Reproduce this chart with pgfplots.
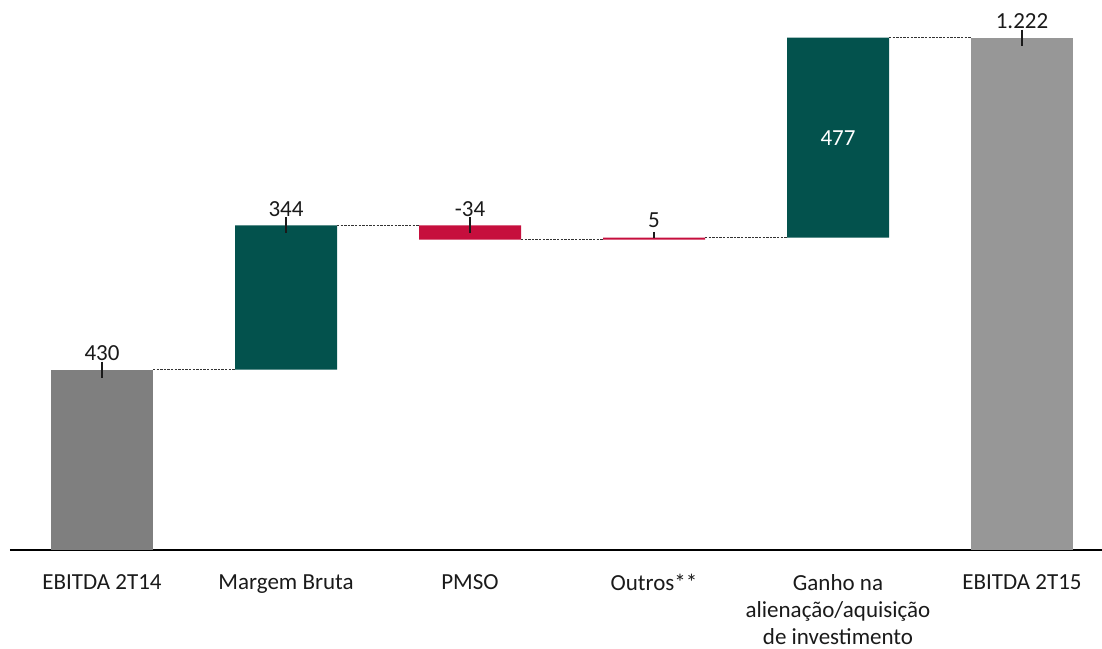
\documentclass[border=0pt]{standalone}
\usepackage{pgfplots}
\pgfplotsset{compat=1.18}
\usepackage{fontspec}
\setmainfont{Carlito}
\definecolor{gA}{HTML}{7F7F7F}
\definecolor{gB}{HTML}{979797}
\definecolor{grn}{HTML}{03524D}
\definecolor{rd}{HTML}{C60F3D}
\definecolor{txt}{HTML}{1A1A1A}
\definecolor{dashc}{HTML}{333333}
\newcommand{\lblfont}{\fontsize{11.5}{13.6}\selectfont}
\pgfplotsset{
 geom/.style={x=92pt, y=0.2095pt, xmin=-0.5, xmax=5.435, ymin=0, ymax=1312, clip=false},
 conn/.style={sharp plot, color=dashc, line width=0.6pt, dash pattern=on 1.2pt off 0.6pt},
}
\begin{document}
\begin{tikzpicture}
\begin{axis}[
 geom,
 ybar stacked, bar width=51pt,
 axis y line=none, axis x line*=bottom,
 x axis line style={line width=0.8pt, black, -},
 xtick={0,1,2,3,4,5}, major tick length=0pt,
 xticklabels={EBITDA 2T14, Margem Bruta, PMSO, Outros**, {Ganho na\\alienação/aquisição\\de investimento}, EBITDA 2T15},
 xticklabel style={align=center, font=\lblfont, text=txt, yshift=-8.8pt},
 ytick=\empty,
]
% invisible base of the floating bars
\addplot [draw=none, fill=none] coordinates {(0,0) (1,430) (2,740) (3,740) (4,745) (5,0)};
\addplot [draw=none, fill=gA] coordinates {(0,430) (1,0) (2,0) (3,0) (4,0) (5,0)};
\addplot [draw=none, fill=grn] coordinates {(0,0) (1,344) (2,0) (3,0) (4,477) (5,0)};
\addplot [draw=none, fill=rd] coordinates {(0,0) (1,0) (2,34) (3,5) (4,0) (5,0)};
\addplot [draw=none, fill=gB] coordinates {(0,0) (1,0) (2,0) (3,0) (4,0) (5,1222)};
\end{axis}
\begin{axis}[geom, hide axis]
% connectors
\addplot [conn] coordinates {(0.2772,430) (0.7228,430)};
\addplot [conn] coordinates {(1.2772,774) (1.7228,774)};
\addplot [conn] coordinates {(2.2772,740) (2.7228,740)};
\addplot [conn] coordinates {(3.2772,745) (3.7228,745)};
\addplot [conn] coordinates {(4.2772,1222) (4.7228,1222)};
% value labels with tick marks
\addplot [only marks, mark=|, mark size=4pt, mark options={draw=txt, line width=0.9pt},
  nodes near coords, point meta=explicit symbolic,
  every node near coord/.append style={font=\lblfont, text=txt, anchor=south, yshift=0.5pt}]
  table [meta=lab] {
x y lab
0 430 430
1 774 344
2 774 -34
5 1222 1.222
};
\addplot [only marks, mark=|, mark size=1.4pt, mark options={draw=txt, line width=0.9pt, yshift=1.4pt},
  nodes near coords, point meta=explicit symbolic,
  every node near coord/.append style={font=\lblfont, text=txt, anchor=south}]
  table [meta=lab] {
x y lab
3 745 5
};
\addplot [only marks, mark=none,
  nodes near coords, point meta=explicit symbolic,
  every node near coord/.append style={font=\lblfont, text=white, anchor=center}]
  table [meta=lab] {
x y lab
4 983.5 477
};
\end{axis}
\pgfresetboundingbox
\path ([xshift=-5pt]current axis.north west) rectangle ++(551pt,-324pt);
\end{tikzpicture}
\end{document}
